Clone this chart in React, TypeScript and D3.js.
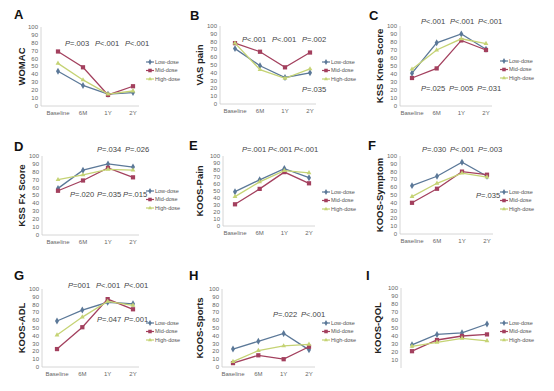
import React from "react";
import * as d3 from "d3";

const categories = ["Baseline", "6M", "1Y", "2Y"];
const yTicks = [0, 10, 20, 30, 40, 50, 60, 70, 80, 90, 100];
const yTicksQol = [10, 20, 30, 40, 50, 60, 70, 80, 90, 100];
const seriesNames = ["Low-dose", "Mid-dose", "High-dose"];

const womacLow = [44, 26, 15, 17];
const womacMid = [69, 49, 14, 25];
const womacHigh = [54, 33, 15, 19];

const vasLow = [71, 49, 34, 40];
const vasMid = [78, 67, 47, 66];
const vasHigh = [78, 44, 33, 45];

const kssKneeLow = [41, 79, 90, 71];
const kssKneeMid = [35, 47, 82, 70];
const kssKneeHigh = [46, 70, 84, 78];

const kssFxLow = [59, 82, 90, 86];
const kssFxMid = [56, 69, 85, 73];
const kssFxHigh = [70, 76, 83, 82];

const koosPainLow = [49, 66, 82, 69];
const koosPainMid = [31, 53, 77, 61];
const koosPainHigh = [42, 63, 79, 76];

const koosSymLow = [62, 74, 92, 74];
const koosSymMid = [40, 58, 80, 76];
const koosSymHigh = [48, 65, 78, 73];

const koosAdlLow = [59, 73, 83, 81];
const koosAdlMid = [23, 51, 87, 74];
const koosAdlHigh = [41, 64, 84, 79];

const koosSportLow = [23, 33, 43, 22];
const koosSportMid = [5, 15, 10, 26];
const koosSportHigh = [7, 21, 27, 29];

const koosQolLow = [29, 42, 44, 55];
const koosQolMid = [21, 35, 40, 42];
const koosQolHigh = [27, 32, 37, 34];

// p-value labels: [top row, bottom row]
const pA = [["=.003", "<.001", "<.001"], []];
const pB = [["<.001", "<.001", "=.002"], ["=.035"]];
const pC = [["<.001", "<.001", "<.001"], ["=.025", "=.005", "=.031"]];
const pD = [["=.034", "=.026"], ["=.020", "=.035", "=.015"]];
const pE = [["=.001", "<.001", "<.001"], []];
const pF = [["=.030", "<.001", "=.003"], ["=.035"]];
const pG = [["=001", "<.001", "<.001"], ["=.047", "=.001"]];
const pH = [["=.022", "<.001"], []];
const pI = [[], []];

const colors = ["#5b7898", "#a3405e", "#c5d374"];
const symbols = [d3.symbolDiamond, d3.symbolSquare, d3.symbolTriangle];
const symbolSizes = [14, 18, 10];
const font = "Liberation Sans, Arial, sans-serif";

interface PanelProps {
  letter: string;
  title: string;
  series: number[][];
  ticks: number[];
  p: string[][];
  showX?: boolean;
  letterX: number;
  letterY: number;
  titleX: number;
  axisX: number;
  y100: number;
  y0: number;
  xFirst: number;
  xLast: number;
  legendX: number;
  legendY: number;
  pTop: number[][];
  pBottom: number[][];
}

const Panel: React.FC<PanelProps> = (pr) => {
  const x = d3.scalePoint<string>().domain(categories).range([pr.xFirst, pr.xLast]).padding(0);
  const y = d3.scaleLinear().domain([0, 100]).range([pr.y0, pr.y100]);
  const line = d3
    .line<number>()
    .x((_, i) => x(categories[i]) as number)
    .y((d) => y(d));
  const xEnd = pr.xLast + 6;
  const midY = (pr.y0 + pr.y100) / 2;

  const renderP = (labels: string[], pos: number[][]) =>
    labels.map((s, i) =>
      pos[i] ? (
        <text key={i} x={pos[i][0]} y={pos[i][1]} fontSize={7.6} fill="#444" fontFamily={font}>
          <tspan fontStyle="italic">P</tspan>
          {s}
        </text>
      ) : null
    );

  return (
    <g>
      <text x={pr.letterX} y={pr.letterY} fontSize={13} fontWeight="bold" fontFamily={font} fill="#111">
        {pr.letter}
      </text>
      <text
        transform={`translate(${pr.titleX},${midY}) rotate(-90)`}
        textAnchor="middle"
        fontSize={9.5}
        fontWeight="bold"
        fontFamily={font}
        fill="#222"
      >
        {pr.title}
      </text>
      <line x1={pr.axisX} x2={pr.axisX} y1={y(100)} y2={y(0)} stroke="#ccc" strokeWidth={0.8} />
      {pr.showX !== false && (
        <line x1={pr.axisX} x2={xEnd} y1={y(0)} y2={y(0)} stroke="#ccc" strokeWidth={0.8} />
      )}
      {pr.ticks.map((t) => (
        <text
          key={t}
          x={pr.axisX - 3}
          y={y(t)}
          dy="0.33em"
          textAnchor="end"
          fontSize={6}
          fill="#666"
          fontFamily={font}
        >
          {t}
        </text>
      ))}
      {pr.showX !== false &&
        categories.map((c) => (
          <text
            key={c}
            x={x(c)}
            y={y(0) + 9}
            textAnchor="middle"
            fontSize={6}
            fill="#666"
            fontFamily={font}
          >
            {c}
          </text>
        ))}
      {pr.series.map((s, k) => (
        <g key={k}>
          <path d={line(s) as string} fill="none" stroke={colors[k]} strokeWidth={1.3} />
          {s.map((v, i) => (
            <path
              key={i}
              transform={`translate(${x(categories[i])},${y(v)})`}
              d={d3.symbol().type(symbols[k]).size(symbolSizes[k])() as string}
              fill={colors[k]}
            />
          ))}
        </g>
      ))}
      {seriesNames.map((n, k) => {
        const ly = pr.legendY + k * 8.5;
        return (
          <g key={n}>
            <line x1={pr.legendX} x2={pr.legendX + 8} y1={ly} y2={ly} stroke={colors[k]} strokeWidth={1.2} />
            <path
              transform={`translate(${pr.legendX + 4},${ly})`}
              d={d3.symbol().type(symbols[k]).size(symbolSizes[k] * 0.7)() as string}
              fill={colors[k]}
            />
            <text x={pr.legendX + 9} y={ly} dy="0.33em" fontSize={5.5} fill="#555" fontFamily={font}>
              {n}
            </text>
          </g>
        );
      })}
      {renderP(pr.p[0], pr.pTop)}
      {renderP(pr.p[1], pr.pBottom)}
    </g>
  );
};

export default function App() {
  return (
    <svg
      width={554}
      height={391}
      style={{ position: "absolute", left: 0, top: 0, background: "#fff" }}
    >
      <rect width={554} height={391} fill="#fff" />
      <Panel
        letter="A" title="WOMAC" series={[womacLow, womacMid, womacHigh]} ticks={yTicks} p={pA}
        letterX={14} letterY={19} titleX={25} axisX={41} y100={27} y0={106} xFirst={58} xLast={133}
        legendX={146} legendY={62}
        pTop={[[65, 46], [95, 46], [125, 46]]} pBottom={[]}
      />
      <Panel
        letter="B" title="VAS pain" series={[vasLow, vasMid, vasHigh]} ticks={yTicks} p={pB}
        letterX={190} letterY={20} titleX={203} axisX={220} y100={26} y0={104} xFirst={235} xLast={310}
        legendX={322} legendY={62}
        pTop={[[242, 42], [272, 42], [302, 42]]} pBottom={[[302, 92]]}
      />
      <Panel
        letter="C" title="KSS Knee Score" series={[kssKneeLow, kssKneeMid, kssKneeHigh]} ticks={yTicks} p={pC}
        letterX={369} letterY={20} titleX={383} axisX={400} y100={26} y0={106} xFirst={412} xLast={486}
        legendX={500} legendY={61}
        pTop={[[421, 24], [450, 24], [478, 24]]} pBottom={[[421, 91], [449, 91], [477, 91]]}
      />
      <Panel
        letter="D" title="KSS Fx Score" series={[kssFxLow, kssFxMid, kssFxHigh]} ticks={yTicks} p={pD}
        letterX={14} letterY={151} titleX={25} axisX={42} y100={156} y0={235} xFirst={58} xLast={133}
        legendX={146} legendY={191}
        pTop={[[97, 152], [125, 152]]} pBottom={[[70, 197], [97, 197], [123, 197]]}
      />
      <Panel
        letter="E" title="KOOS-Pain" series={[koosPainLow, koosPainMid, koosPainHigh]} ticks={yTicks} p={pE}
        letterX={189} letterY={150} titleX={203} axisX={223} y100={156} y0={226} xFirst={235} xLast={309}
        legendX={322} legendY={192}
        pTop={[[242, 152], [268, 152], [294, 152]]} pBottom={[]}
      />
      <Panel
        letter="F" title="KOOS-Symptom" series={[koosSymLow, koosSymMid, koosSymHigh]} ticks={yTicks} p={pF}
        letterX={368} letterY={150} titleX={383} axisX={400} y100={156} y0={234} xFirst={412} xLast={487}
        legendX={500} legendY={192}
        pTop={[[422, 152], [450, 152], [478, 152]]} pBottom={[[476, 198]]}
      />
      <Panel
        letter="G" title="KOOS-ADL" series={[koosAdlLow, koosAdlMid, koosAdlHigh]} ticks={yTicks} p={pG}
        letterX={14} letterY={280} titleX={25} axisX={42} y100={289} y0={367} xFirst={57} xLast={133}
        legendX={146} legendY={323}
        pTop={[[68, 288], [96, 288], [124, 288]]} pBottom={[[97, 322], [124, 322]]}
      />
      <Panel
        letter="H" title="KOOS-Sports" series={[koosSportLow, koosSportMid, koosSportHigh]} ticks={yTicks} p={pH}
        letterX={189} letterY={280} titleX={203} axisX={222} y100={289} y0={367} xFirst={233} xLast={309}
        legendX={322} legendY={323}
        pTop={[[273, 317], [301, 317]]} pBottom={[]}
      />
      <Panel
        letter="I" title="KOOS-QOL" series={[koosQolLow, koosQolMid, koosQolHigh]} ticks={yTicksQol} p={pI}
        showX={false}
        letterX={366} letterY={280} titleX={381} axisX={401} y100={288} y0={368} xFirst={412} xLast={487}
        legendX={500} legendY={323}
        pTop={[]} pBottom={[]}
      />
    </svg>
  );
}
